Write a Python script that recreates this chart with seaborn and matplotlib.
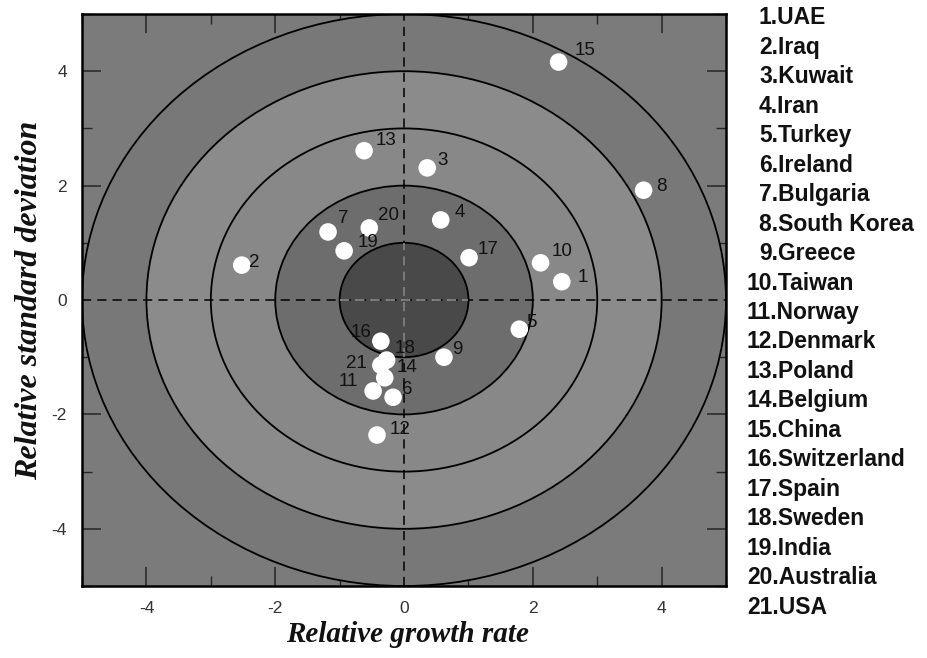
import numpy as np
import pandas as pd
import matplotlib
matplotlib.use("Agg")
import matplotlib.pyplot as plt
from matplotlib.patches import Circle
import seaborn as sns

# country numbers and names (legend on the right)
numeros = [str(i) for i in range(1, 22)]
paises = ["UAE", "Iraq", "Kuwait", "Iran", "Turkey", "Ireland", "Bulgaria",
          "South Korea", "Greece", "Taiwan", "Norway", "Denmark", "Poland",
          "Belgium", "China", "Switzerland", "Spain", "Sweden", "India",
          "Australia", "USA"]

# values
crescimento = [2.45, -2.52, 0.36, 0.57, 1.79, -0.17, -1.18, 3.72, 0.62, 2.12,
               -0.48, -0.42, -0.62, -0.30, 2.40, -0.36, 1.01, -0.27, -0.93,
               -0.54, -0.36]
desvio = [0.32, 0.61, 2.31, 1.40, -0.51, -1.70, 1.19, 1.92, -1.00, 0.65,
          -1.59, -2.36, 2.61, -1.36, 4.16, -0.72, 0.74, -1.05, 0.86,
          1.26, -1.14]

df = pd.DataFrame({"num": numeros, "pais": paises,
                   "x": crescimento, "y": desvio})

# label offsets in pixels (dx, dy)
offsets = {"1": (16, 4), "2": (7, 3), "3": (10, 7), "4": (14, 7),
           "5": (7, 7), "6": (9, 8), "7": (10, 13), "8": (13, 4),
           "9": (8, 8), "10": (11, 11), "11": (-15, 9), "12": (13, 6),
           "13": (12, 10), "14": (12, 10), "15": (16, 12), "16": (-9, 9),
           "17": (9, 8), "18": (8, 12), "19": (13, 8), "20": (9, 12),
           "21": (-14, 2)}

sns.set_style("ticks")
plt.rcParams["font.family"] = ["Liberation Sans", "DejaVu Sans"]
plt.rcParams["axes.unicode_minus"] = False

fig = plt.figure(figsize=(9.27, 6.58), dpi=100)
ax = fig.add_axes([0.0885, 0.1094, 0.6947, 0.8693])
ax.set_facecolor("#7b7b7b")

# target rings
cores = {5: "#787878", 4: "#8b8b8b", 3: "#888888", 2: "#6d6d6d", 1: "#494949"}
for r in [5, 4, 3, 2, 1]:
    ax.add_patch(Circle((0, 0), r, facecolor=cores[r], edgecolor="black",
                        lw=1.3, zorder=1))

# dashed cross
ax.axhline(0, color="black", ls=(0, (6, 4)), lw=1.1, zorder=2)
ax.axvline(0, color="black", ls=(0, (6, 4)), lw=1.1, zorder=2)
ax.plot([-1, 1], [0, 0], color="#9a9a9a", ls=(0, (6, 4)), lw=1.1, zorder=2.1)
ax.plot([0, 0], [-1, 1], color="#9a9a9a", ls=(0, (6, 4)), lw=1.1, zorder=2.1)

sns.scatterplot(data=df, x="x", y="y", ax=ax, color="white", s=160,
                edgecolor="none", linewidth=0, zorder=3, legend=False)

for _, row in df.iterrows():
    dx, dy = offsets[row["num"]]
    ax.annotate(row["num"], (row["x"], row["y"]),
                xytext=(dx * 0.72, dy * 0.72), textcoords="offset points",
                ha="left" if dx > 0 else "right", va="center",
                fontsize=13.5, color="#111111", zorder=5)

ax.set_xlim(-5, 5)
ax.set_ylim(-5, 5)
ax.set_xticks([-4, -2, 0, 2, 4])
ax.set_yticks([-4, -2, 0, 2, 4])
ax.set_xticks(np.arange(-5, 6, 1), minor=True)
ax.set_yticks(np.arange(-5, 6, 1), minor=True)
ax.tick_params(which="major", direction="in", length=14, width=1.1,
               top=True, right=True, labelsize=12.5, labelcolor="#333333",
               pad=11)
ax.tick_params(which="minor", direction="in", length=7, width=1.0,
               top=True, right=True)
for s in ax.spines.values():
    s.set_linewidth(1.8)
    s.set_color("black")

ax.set_xlabel("")
ax.set_ylabel("")
fig.text(407 / 927, 1 - 634 / 658, "Relative growth rate", fontsize=21,
         fontweight="bold", fontstyle="italic", family="Liberation Serif",
         ha="center", va="center", color="#111111")
fig.text(30 / 927, 1 - 300 / 658, "Relative standard deviation",
         fontsize=23, fontweight="bold", fontstyle="italic",
         family="Liberation Serif", rotation=90, ha="center", va="center",
         color="#111111")

# legend list at the right
for i, (n, p) in enumerate(zip(numeros, paises)):
    ypix = 18 + i * 29.45
    xpix = 759 if len(n) == 1 else 747
    fig.text(xpix / 927, 1 - ypix / 658, f"{n}.{p}", fontsize=16.5,
             fontweight="bold", color="#111111", ha="left", va="center")

fig.savefig("out.png", dpi=100)
